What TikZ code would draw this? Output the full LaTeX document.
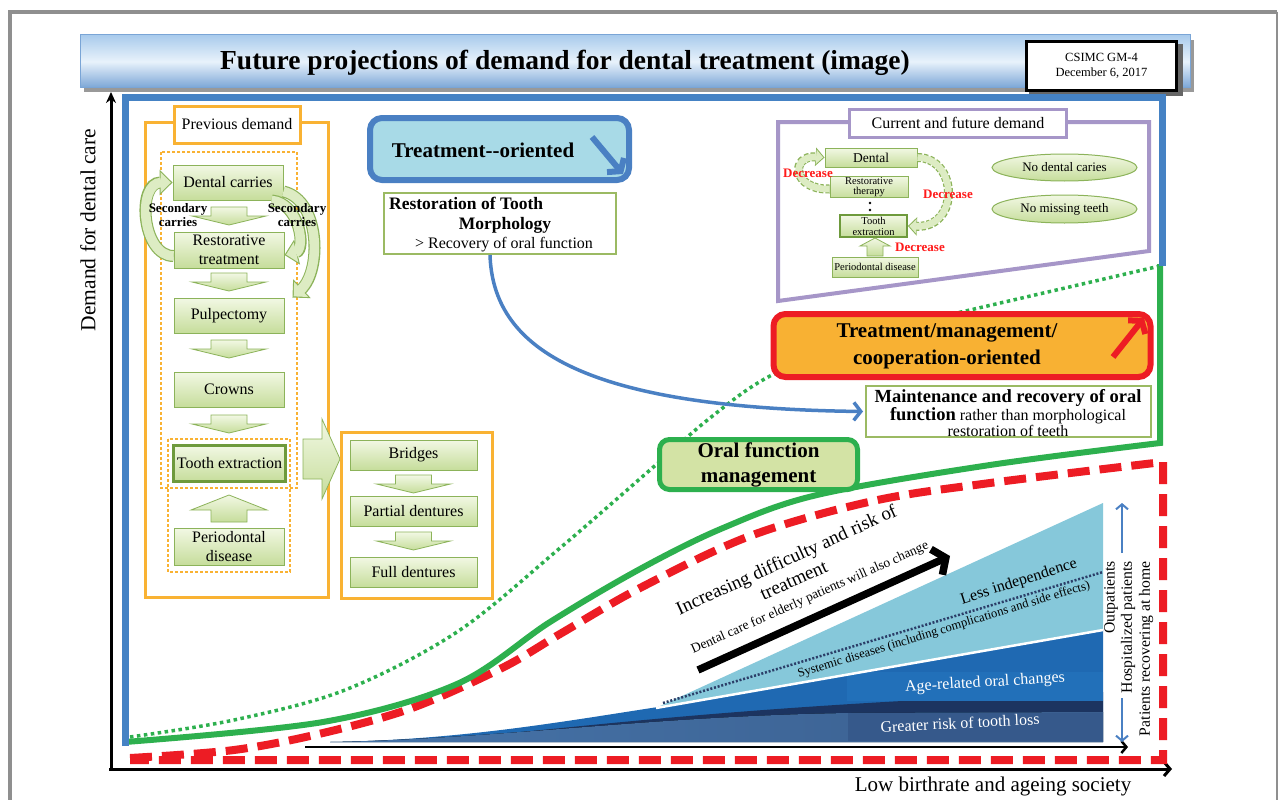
\documentclass[tikz,border=0pt]{standalone}
\usepackage{fontspec}
\setmainfont{Liberation Serif}
\usetikzlibrary{arrows.meta,shapes.geometric,calc}
\newcommand\fsz[2]{\fontsize{#1}{#2}\selectfont}
\definecolor{framegray}{HTML}{8F8F8F}
\definecolor{frameblue}{HTML}{4582C4}
\definecolor{gold}{HTML}{F9B233}
\definecolor{leafA}{HTML}{F2F8E4}
\definecolor{leafB}{HTML}{C6DD9B}
\definecolor{leafC}{HTML}{DDECC3}
\definecolor{leafedge}{HTML}{8CB35A}
\definecolor{leafdark}{HTML}{6E9A3C}
\definecolor{curvegreen}{HTML}{2DB04E}
\definecolor{dashred}{HTML}{ED1C24}
\definecolor{lilac}{HTML}{A696C8}
\definecolor{cyanfill}{HTML}{A8DAE7}
\definecolor{cyanedge}{HTML}{4A80C3}
\definecolor{amber}{HTML}{F8B133}
\definecolor{oliveedge}{HTML}{9BBA63}
\definecolor{sagefill}{HTML}{D3E3A5}
\definecolor{skyA}{HTML}{A9CBEC}
\definecolor{skyB}{HTML}{E8F2FB}
\definecolor{skyC}{HTML}{7AA5D6}
\definecolor{wedgelight}{HTML}{86C8DA}
\definecolor{wedgeblue}{HTML}{1F69B2}
\definecolor{wedgebright}{HTML}{2270B9}
\definecolor{wedgenavy}{HTML}{1C3460}
\definecolor{wedgesteel}{HTML}{4674A9}
\definecolor{wedgesteelB}{HTML}{3A5E8E}
\definecolor{wedgeslate}{HTML}{36598B}
\definecolor{dotnavy}{HTML}{2B3E68}
\definecolor{arrowblue}{HTML}{4A80C3}
\definecolor{decred}{HTML}{FF1A1A}
\tikzset{
  blockarrow/.style={draw=leafedge, line width=0.8pt, top color=leafA, bottom color=leafB},
  dnarr/.pic={\path[blockarrow] (-18,0) -- (18,0) -- (18,9) -- (37,9) -- (0,18) -- (-37,9) -- (-18,9) -- cycle;},
  uparr/.pic={\path[blockarrow] (0,0) -- (38,15) -- (18,15) -- (18,27) -- (-18,27) -- (-18,15) -- (-38,15) -- cycle;},
  smallup/.pic={\path[blockarrow] (0,0) -- (15,8) -- (8,8) -- (8,18) -- (-8,18) -- (-8,8) -- (-15,8) -- cycle;},
}
\begin{document}
\begin{tikzpicture}[x=1pt,y=-1pt,
  every node/.style={inner sep=1pt},
  leafbox/.style={draw=leafedge, line width=0.9pt, top color=leafA, bottom color=leafB, align=center,
    minimum width=110pt, minimum height=35pt, font=\fsz{16}{19}},
  goldframe/.style={draw=gold, line width=3pt, fill=white},
  goldlabel/.style={draw=gold, line width=3pt, fill=white, font=\fsz{16}{18}},
  golddots/.style={draw=gold, line width=2.6pt, dash pattern=on 2.6pt off 2.4pt},
  bandout/.style={draw=leafedge, line width=12pt, -{Triangle[width=25pt,length=13pt]}},
  bandin/.style={draw=leafC, line width=9.6pt, shorten >=1.7pt, -{Triangle[width=20pt,length=10.2pt]}},
  dashout/.style={draw=leafedge, line width=9pt, dash pattern=on 4pt off 2pt, -{Triangle[width=18pt,length=9pt]}},
  dashin/.style={draw=leafC, line width=6.6pt, shorten >=1.4pt, -{Triangle[width=14pt,length=7pt]}},
  decrease/.style={text=decred, font=\fsz{13}{15}\bfseries},
  whitebox/.style={draw=oliveedge, line width=2pt, fill=white},
]
\useasboundingbox (0,0) rectangle (1280,800);
\fill[white] (0,0) rectangle (1280,800);

% outer page frame
\draw[framegray, line width=4pt] (10,806) -- (10,12) -- (1277,12);
\draw[framegray, line width=1.5pt] (1277,12) -- (1277,806);

% title bar
\fill[black!40] (84,40) rectangle (1194,92);
\node[draw=skyC, line width=1pt, top color=skyA, bottom color=skyC, middle color=skyB,
      minimum width=1110pt, minimum height=53pt] (bar) at (635,61.5) {};
\node[font=\fsz{27.5}{30}\bfseries] (title) at (565,63) {Future projections of demand for dental treatment (image)};
\fill[black!60] (1029,44) rectangle (1183,96);
\node[draw=black, line width=2.5pt, fill=white, minimum width=150pt, minimum height=49pt,
      align=center, font=\fsz{12.5}{15}] (csimc) at (1101.5,66) {CSIMC GM-4\\December 6, 2017};

% axes
\coordinate (origin) at (111,769);
\coordinate (ytip) at (111,92);
\coordinate (xtip) at (1172,769);
\draw[black, line width=3pt, -{Stealth[length=11pt,width=10pt]}] (origin) -- (ytip);
\draw[black, line width=3pt, -{Straight Barb[length=6pt,width=14pt]}] ($(origin)+(-2,0)$) -- (xtip);
\node[rotate=90, font=\fsz{21.5}{24}] (ylabel) at (88,230) {Demand for dental care};
\node[font=\fsz{21}{24}] (xlabel) at (993,786) {Low birthrate and ageing society};

% layered wedge of patient characteristics
\fill[wedgeblue] (330,742) .. controls (460,740) and (560,722) .. (658,707) -- (1103,630) -- (1103,742) -- cycle;
\fill[wedgenavy] (470,737) .. controls (600,725) and (760,704) .. (1103,692) -- (1103,712) -- (850,713)
   .. controls (700,717) and (580,730) .. (470,737) -- cycle;
\fill[left color=wedgesteel, right color=wedgesteelB] (330,742) .. controls (500,739) and (650,716) .. (850,713)
   -- (1103,712) -- (1103,742) -- cycle;
\fill[wedgebright] (847,672) rectangle (1103,701);
\fill[wedgeslate] (848,713) rectangle (1103,741);
\fill[wedgelight] (658,707) -- (1103,503) -- (1103,630) -- cycle;
\draw[white, line width=2.5pt] (656,708) -- (1103,630);
\draw[dotnavy, line width=2.5pt, dash pattern=on 2pt off 1.8pt] (663,703) -- (1103,572);
\node[rotate=17.7, font=\fsz{16}{18}] (lessind) at (1019,582) {Less independence};
\node[rotate=17, font=\fsz{12.6}{14}] (systemic) at (944,630) {Systemic diseases (including complications and side effects)};
\node[rotate=3.5, text=white, font=\fsz{16}{18}] (agerel) at (985,683) {Age-related oral changes};
\node[rotate=3, text=white, font=\fsz{16}{18}] (toothloss) at (960,723) {Greater risk of tooth loss};

% trend arrow
\coordinate (trendA) at (698,670);
\coordinate (trendB) at (950,556);
\draw[black, line width=7.5pt, -{Straight Barb[length=10pt,width=28pt]}] (trendA) -- (trendB);
\node[rotate=24.5, font=\fsz{19}{21}] (incr) at (787,561) {Increasing difficulty and risk of};
\node[rotate=24.5, font=\fsz{19}{21}] (incrb) at (794,581) {treatment};
\node[rotate=24, font=\fsz{13.5}{15}] (eldcare) at (810,598) {Dental care for elderly patients will also change};

% time arrow and care-setting arrows
\coordinate (timeA) at (305,747);
\coordinate (timeB) at (1128,747);
\draw[black, line width=2.5pt, -{Straight Barb[length=5pt,width=12pt]}] (timeA) -- (timeB);
\coordinate (upA) at (1122,553);
\coordinate (upB) at (1122,503);
\coordinate (dnA) at (1122,698);
\coordinate (dnB) at (1122,742);
\draw[arrowblue, line width=2pt, -{Straight Barb[length=5pt,width=12pt]}] (upA) -- (upB);
\draw[arrowblue, line width=2pt, -{Straight Barb[length=5pt,width=12pt]}] (dnA) -- (dnB);
\node[rotate=90, anchor=east, font=\fsz{15.7}{17}] (outp) at (1111,560) {Outpatients};
\node[rotate=90, anchor=east, font=\fsz{15.7}{17}] (hosp) at (1128,560) {Hospitalized patients};
\node[rotate=90, anchor=east, font=\fsz{15.7}{17}] (home) at (1146,560) {Patients recovering at home};

% demand curves
\draw[curvegreen, line width=3.5pt, dash pattern=on 3.5pt off 3.5pt]
  plot[smooth, tension=0.55] coordinates {(130,737) (234,720) (345,690) (457,632) (560,548) (650,470) (710,418) (770,376) (870,333) (970,310) (1160,266)};
\draw[dashred, line width=8pt, dash pattern=on 22pt off 10pt]
  plot[smooth, tension=0.55] coordinates {(130,758) (234,750) (323,733) (412,708) (502,668) (560,634) (640,588) (750,536) (873,501) (990,483) (1163,462)}
  -- (1163,760) -- (130,760);
\draw[curvegreen, line width=6pt]
  plot[smooth, tension=0.55] coordinates {(125,742) (323,722) (457,684) (550,622) (640,569) (723,528) (817,495) (990,465) (1160,443)}
  -- (1160,264);
\draw[frameblue, line width=7pt] (125,746) -- (125,97) -- (1162,97) -- (1162,266);

% previous demand panel
\node[goldframe, minimum width=183pt, minimum height=475pt] (prevframe) at (236.5,359.5) {};
\node[goldlabel, minimum width=126pt, minimum height=37pt] (prevlabel) at (237,124.5) {Previous demand};
\draw[golddots] (161,152) rectangle (297,488);
\draw[golddots] (168,439) rectangle (290,572);
\node[leafbox] (dc) at (228,182.5) {Dental carries};
\node[leafbox, minimum height=36pt] (rt) at (229,250) {Restorative\\treatment};
\node[leafbox] (pu) at (229,315.5) {Pulpectomy};
\node[leafbox] (cr) at (229,389.5) {Crowns};
\node[leafbox, draw=leafdark, line width=2.2pt, minimum width=112pt, minimum height=36pt] (te) at (229.5,463.5) {Tooth extraction};
\node[leafbox, minimum height=37pt] (pd) at (229,546.5) {Periodontal\\disease};
\pic at (229,207) {dnarr};
\pic at (229,273) {dnarr};
\pic at (229,340) {dnarr};
\pic at (229,415) {dnarr};
\pic at (229,495) {uparr};

% secondary caries loops
\draw[bandout] ($(rt.west)+(0,6)$) .. controls ($(rt.west)+(-32,6)$) and ($(dc.west)+(-36,0)$) .. (dc.west);
\draw[bandin] ($(rt.west)+(0,6)$) .. controls ($(rt.west)+(-32,6)$) and ($(dc.west)+(-36,0)$) .. (dc.west);
\draw[bandout] ($(dc.east)+(0,9)$) .. controls (320,200) and (322,270) .. ($(pu.north east)+(8,0)$);
\draw[bandin] ($(dc.east)+(0,9)$) .. controls (320,200) and (322,270) .. ($(pu.north east)+(8,0)$);
\draw[bandout] ($(dc.south east)+(-12,0)$) .. controls (300,203) and (306,250) .. ($(rt.east)+(0,5)$);
\draw[bandin] ($(dc.south east)+(-12,0)$) .. controls (300,203) and (306,250) .. ($(rt.east)+(0,5)$);
\node[align=center, font=\fsz{13}{14}\bfseries] (seclft) at (178,215) {Secondary\\carries};
\node[align=center, font=\fsz{13}{14}\bfseries] (secrgt) at (297,215) {Secondary\\carries};

% prosthetics panel
\path[blockarrow] (303,439) -- (322,439) -- (322,419) -- (340,459) -- (322,499) -- (322,479) -- (303,479) -- cycle;
\node[goldframe, minimum width=151pt, minimum height=166pt] (dentframe) at (416.5,515) {};
\node[leafbox, minimum width=127pt, minimum height=30pt] (br) at (413.5,455) {Bridges};
\node[leafbox, minimum width=127pt, minimum height=30pt] (pt) at (413.5,511) {Partial dentures};
\node[leafbox, minimum width=127pt, minimum height=30pt] (fd) at (413.5,572) {Full dentures};
\pic at (413.5,475) {dnarr};
\pic at (413.5,532) {dnarr};

% treatment-oriented
\node[draw=cyanedge, line width=6pt, fill=cyanfill, rounded corners=12pt, minimum width=259pt, minimum height=62pt] (tro) at (499.5,149) {};
\node[font=\fsz{21}{24}\bfseries] (trotext) at (483,150) {Treatment-{}-oriented};
\coordinate (troA) at (592,137);
\coordinate (troB) at (623,174);
\draw[cyanedge, line width=6pt, -{Straight Barb[length=8pt,width=22pt]}] (troA) -- (troB);
\node[whitebox, minimum width=232pt, minimum height=61pt] (rest) at (500,223.5) {};
\node[anchor=west, font=\fsz{17.5}{20}\bfseries] (resta) at (388,203) {Restoration of Tooth};
\node[font=\fsz{17.5}{20}\bfseries] (restb) at (505,225) {Morphology};
\node[font=\fsz{16}{18}] (restc) at (504,245) {> Recovery of oral function};

% current and future demand
\draw[lilac, line width=4pt] (778,122) -- (1149,122) -- (1149,251) -- (778,301) -- cycle;
\node[draw=lilac, line width=3pt, fill=white, minimum width=217pt, minimum height=28pt, font=\fsz{16}{18}] (curlabel) at (958,123) {Current and future demand};
\node[leafbox, minimum width=92pt, minimum height=19pt, font=\fsz{13.5}{15}] (cdent) at (871,157.5) {Dental};
\node[leafbox, minimum width=78pt, minimum height=20pt, font=\fsz{10.5}{10.5}] (crest) at (869,187) {Restorative\\therapy};
\fill (870,203) circle (1.3);
\fill (870,210) circle (1.3);
\node[leafbox, draw=leafdark, line width=1.8pt, minimum width=67pt, minimum height=22pt, font=\fsz{10.5}{11}] (ctooth) at (873.5,226) {Tooth\\extraction};
\pic at (875,238) {smallup};
\node[leafbox, minimum width=86pt, minimum height=20pt, font=\fsz{10.5}{12}] (cperio) at (875,267) {Periodontal disease};
\draw[dashout] ($(crest.west)+(0,2)$) .. controls (792,190) and (790,155) .. (cdent.west);
\draw[dashin] ($(crest.west)+(0,2)$) .. controls (792,190) and (790,155) .. (cdent.west);
\draw[dashout] (cdent.east) .. controls (958,158) and (960,228) .. (ctooth.east);
\draw[dashin] (cdent.east) .. controls (958,158) and (960,228) .. (ctooth.east);
\node[decrease] (dec1) at (808,173) {Decrease};
\node[decrease] (dec2) at (948,194) {Decrease};
\node[decrease] (dec3) at (920,247) {Decrease};
\node[ellipse, draw=leafedge, line width=1pt, top color=leafA, bottom color=leafB, minimum width=145pt, minimum height=27pt, font=\fsz{13}{15}] (nocar) at (1064.5,167.5) {No dental caries};
\node[ellipse, draw=leafedge, line width=1pt, top color=leafA, bottom color=leafB, minimum width=145pt, minimum height=28pt, font=\fsz{13}{15}] (nomiss) at (1064.5,209) {No missing teeth};

% treatment/management/cooperation-oriented
\node[draw=dashred, line width=6pt, fill=amber, rounded corners=12pt, minimum width=377pt, minimum height=63pt] (tmc) at (962,345.5) {};
\node[align=center, font=\fsz{21}{27}\bfseries] (tmctext) at (947,346) {Treatment/management/\\cooperation-oriented};
\coordinate (tmcA) at (1113,357);
\coordinate (tmcB) at (1144,318);
\draw[dashred, line width=6pt, -{Straight Barb[length=8pt,width=22pt]}] (tmcA) -- (tmcB);
\node[whitebox, minimum width=285pt, minimum height=51pt] (maint) at (1008.5,411.5) {};
\node[align=center, font=\fsz{16}{16.5}] (mainttext) at (1008,413)
  {{\fsz{18.5}{16.5}\bfseries Maintenance and recovery of oral}\\{\fsz{18.5}{16.5}\bfseries function} rather than morphological\\restoration of teeth};

% shift from morphology to function
\draw[arrowblue, line width=3.5pt, -{Straight Barb[length=7pt,width=18pt]}]
  ($(rest.south)+(-10,0)$) .. controls (493,345) and (575,408) .. ($(maint.west)+(-2,0)$);

% oral function management
\node[draw=curvegreen, line width=5pt, fill=sagefill, rounded corners=10pt, minimum width=198pt, minimum height=50pt,
      align=center, font=\fsz{21}{25}\bfseries] (ofm) at (758.5,464.5) {Oral function\\management};
\end{tikzpicture}
\end{document}
